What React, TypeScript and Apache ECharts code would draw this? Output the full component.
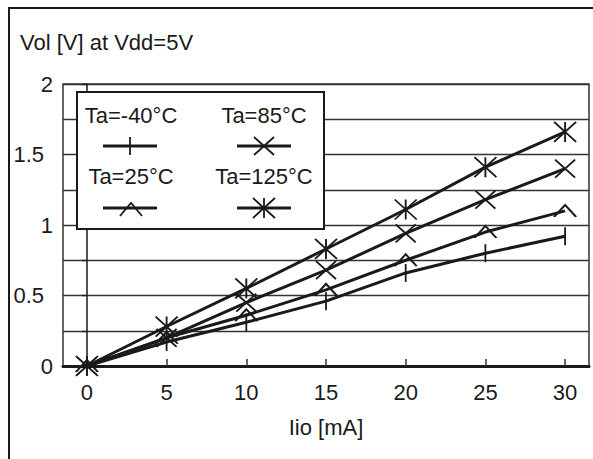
import React, { useEffect, useRef } from "react";
import * as echarts from "echarts";

const currents = [0, 5, 10, 15, 20, 25, 30];
const volM40 = [0, 0.17, 0.31, 0.46, 0.66, 0.8, 0.92];
const vol25 = [0, 0.2, 0.36, 0.54, 0.75, 0.95, 1.1];
const vol85 = [0, 0.2, 0.45, 0.68, 0.94, 1.18, 1.4];
const vol125 = [0, 0.28, 0.55, 0.83, 1.11, 1.41, 1.66];
const xTicks = [0, 5, 10, 15, 20, 25, 30];
const seriesNames = ["Ta=-40°C", "Ta=25°C", "Ta=85°C", "Ta=125°C"];

const FONT = "'Liberation Sans', Arial, sans-serif";
const INK = "#1a1a1a";

const pair = (ys: number[]) => currents.map((x, i) => [x, ys[i]]);

export default function App() {
  const ref = useRef<HTMLDivElement>(null);
  useEffect(() => {
    if (!ref.current) return;
    const chart = echarts.init(ref.current, undefined, { renderer: "svg" });
    const markerStyle = { color: "transparent", borderColor: INK, borderWidth: 1.8 };
    const lineStyle = { color: INK, width: 3 };
    const legendLine = (x1: number, y: number) => ({
      type: "line",
      z: 101,
      shape: { x1, y1: y, x2: x1 + 54, y2: y },
      style: { stroke: INK, lineWidth: 3 },
    });
    const poly = (pts: number[][]) => ({
      type: "polyline",
      z: 101,
      shape: { points: pts },
      style: { stroke: INK, lineWidth: 1.8, fill: null },
    });
    const ltext = (text: string, x: number, y: number) => ({
      type: "text",
      z: 101,
      x,
      y,
      style: { text, font: `22px ${FONT}`, fill: INK, align: "center", verticalAlign: "middle" },
    });
    chart.setOption({
      animation: false,
      backgroundColor: "#fff",
      grid: { left: 63, right: 4, top: 84, bottom: 93, show: true, borderColor: "#333", borderWidth: 1.5 },
      xAxis: {
        type: "value",
        min: -1.5,
        max: 31.5,
        name: "Iio [mA]",
        nameLocation: "middle",
        nameGap: 50,
        nameTextStyle: { fontSize: 22, fontFamily: FONT, color: INK },
        axisLine: { show: true, onZero: false, lineStyle: { color: INK, width: 3 } },
        axisTick: { show: true, inside: true, length: 7, customValues: xTicks, lineStyle: { color: "#333", width: 1.5 } },
        axisLabel: { customValues: xTicks, fontSize: 22, fontFamily: FONT, color: INK, margin: 15 },
        splitLine: { show: false },
      },
      yAxis: {
        type: "value",
        min: 0,
        max: 2,
        interval: 0.25,
        axisLine: { show: true, lineStyle: { color: INK, width: 1.5 } },
        axisTick: { show: true, inside: false, length: 5, lineStyle: { color: INK, width: 1.3 } },
        splitLine: { show: true, lineStyle: { color: "#333", width: 1.3 } },
        axisLabel: {
          fontSize: 22,
          fontFamily: FONT,
          color: INK,
          margin: 10,
          formatter: (v: number) => {
            if (Math.abs(v * 2 - Math.round(v * 2)) > 1e-6) return "";
            if (Number.isInteger(v)) return String(v);
            return "{d|" + String(v) + "}";
          },
          rich: { d: { fontSize: 22, fontFamily: FONT, color: INK, padding: [0, 9, 0, 0] } },
        },
      },
      series: [
        {
          name: seriesNames[0],
          type: "line",
          data: pair(volM40),
          symbol: "rect",
          symbolSize: [1.8, 18],
          itemStyle: { color: INK, borderWidth: 0 },
          lineStyle,
        },
        {
          name: seriesNames[1],
          type: "line",
          data: pair(vol25),
          symbol: "path://M0 10 L10 0 L20 10",
          symbolSize: [22, 12],
          itemStyle: markerStyle,
          lineStyle,
        },
        {
          name: seriesNames[2],
          type: "line",
          data: pair(vol85),
          symbol: "path://M0 0 L10 10 M10 0 L0 10",
          symbolSize: [20, 18],
          itemStyle: markerStyle,
          lineStyle,
        },
        {
          name: seriesNames[3],
          type: "line",
          data: pair(vol125),
          symbol: "path://M0 0 L10 10 M10 0 L0 10 M5 0 L5 10",
          symbolSize: [22, 20],
          itemStyle: markerStyle,
          lineStyle,
        },
      ],
      graphic: [
        {
          type: "rect",
          z: 100,
          shape: { x: 9, y: 8, width: 700, height: 600 },
          style: { fill: null, stroke: INK, lineWidth: 2 },
        },
        {
          type: "text",
          z: 100,
          x: 20,
          y: 42,
          style: { text: "Vol [V] at Vdd=5V", font: `22px ${FONT}`, fill: INK, align: "left", verticalAlign: "middle" },
        },
        {
          type: "rect",
          z: 100,
          shape: { x: 77, y: 92, width: 247, height: 137 },
          style: { fill: "#fff", stroke: INK, lineWidth: 2 },
        },
        ltext(seriesNames[0], 131, 115),
        ltext(seriesNames[2], 264, 115),
        ltext(seriesNames[1], 131, 176),
        ltext(seriesNames[3], 264, 176),
        legendLine(103, 146),
        legendLine(237, 146),
        legendLine(103, 208),
        legendLine(237, 208),
        poly([[130, 137], [130, 155]]),
        poly([[254, 137], [274, 155]]),
        poly([[274, 137], [254, 155]]),
        poly([[120, 216], [131, 203], [142, 216]]),
        poly([[253, 198], [275, 218]]),
        poly([[275, 198], [253, 218]]),
        poly([[264, 198], [264, 218]]),
      ],
    });
    return () => chart.dispose();
  }, []);
  return <div ref={ref} style={{ position: "absolute", left: 0, top: 0, width: 593, height: 459 }} />;
}
